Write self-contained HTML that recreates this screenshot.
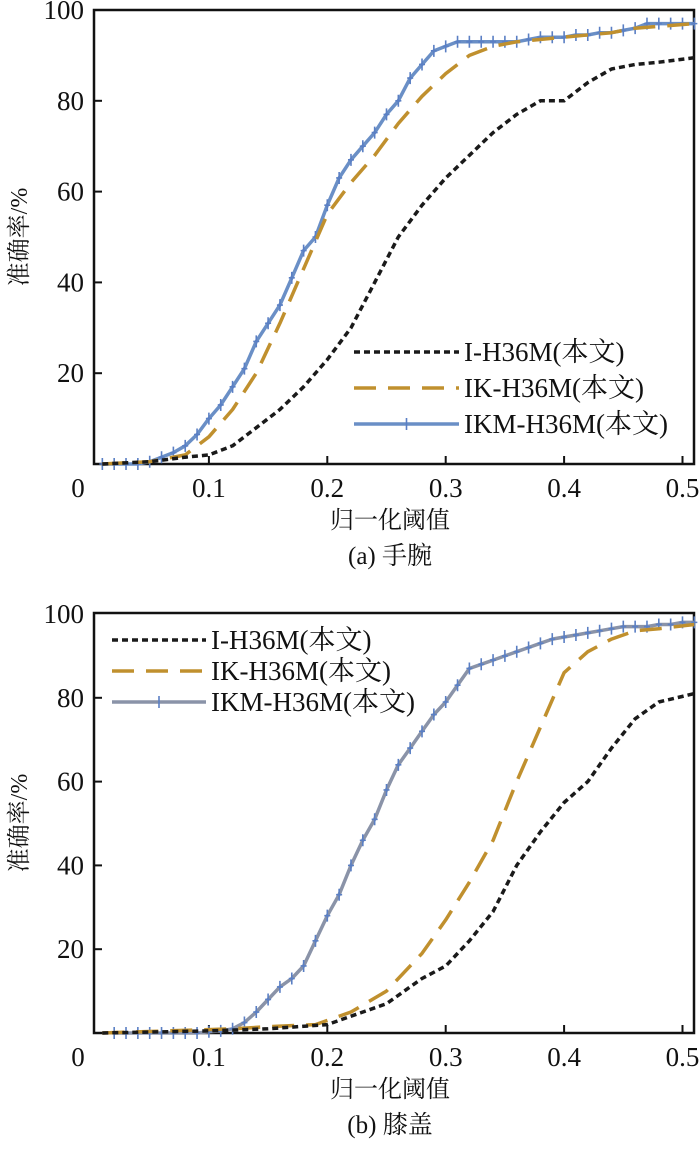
<!DOCTYPE html>
<html><head><meta charset="utf-8"><style>
body{margin:0;background:#fff;}
svg text{font-family:"Liberation Serif","Noto Serif CJK SC",serif;fill:#111;}
</style></head><body>
<svg id="s" width="700" height="1157" viewBox="0 0 700 1157" xmlns="http://www.w3.org/2000/svg"></svg>
<script>
const xTicks=[0,0.1,0.2,0.3,0.4,0.5];
const yTicks=[20,40,60,80,100];
const seriesNames=["I-H36M(本文)","IK-H36M(本文)","IKM-H36M(本文)"];
// chart a (wrist)
const aIx=[0.01,0.05,0.08,0.1,0.12,0.14,0.16,0.18,0.2,0.22,0.24,0.26,0.28,0.3,0.32,0.34,0.36,0.38,0.4,0.42,0.44,0.46,0.48,0.51];
const aI=[0,0.5,1.5,2,4,8,12,17,23,30,40,50,57,63,68,73,77,80,80,84,87,88,88.5,89.5];
const aKx=[0.01,0.05,0.08,0.1,0.12,0.14,0.16,0.18,0.2,0.22,0.24,0.26,0.28,0.3,0.32,0.34,0.36,0.4,0.44,0.46,0.51];
const aK=[0,0.5,2,6,12,20,31,43,55,62,68,75,81,86,90,92,93,94,95,96,97];
const aMx=[0.01,0.02,0.03,0.04,0.05,0.06,0.07,0.08,0.09,0.1,0.11,0.12,0.13,0.14,0.15,0.16,0.17,0.18,0.19,0.2,0.21,0.22,0.23,0.24,0.25,0.26,0.27,0.28,0.29,0.3,0.31,0.32,0.33,0.34,0.35,0.36,0.37,0.38,0.39,0.4,0.41,0.42,0.43,0.44,0.45,0.46,0.47,0.48,0.49,0.5,0.51];
const aM=[0,0,0,0,0.5,1.5,2.5,4,6.5,10,13,17,21,27,31,35,41,47,50,57,63,67,70,73,77,80,85,88,91,92,93,93,93,93,93,93,93.5,94,94,94,94.5,94.5,95,95,95.5,96,97,97,97,97,97];
// chart b (knee)
const bIx=[0.01,0.1,0.15,0.2,0.22,0.25,0.28,0.3,0.32,0.34,0.36,0.38,0.4,0.42,0.44,0.46,0.48,0.51];
const bI=[0,0.5,1,2,4,7,13,16,22,29,40,48,55,60,68,75,79,81];
const bKx=[0.01,0.12,0.15,0.19,0.22,0.25,0.28,0.3,0.32,0.34,0.36,0.38,0.4,0.42,0.44,0.46,0.48,0.51];
const bK=[0,1,1.5,2,5,10,19,27,36,46,60,73,86,91,94,96,96.5,97.5];
const bMx=[0.02,0.03,0.04,0.05,0.06,0.07,0.08,0.09,0.1,0.11,0.12,0.13,0.14,0.15,0.16,0.17,0.18,0.19,0.2,0.21,0.22,0.23,0.24,0.25,0.26,0.27,0.28,0.29,0.3,0.31,0.32,0.33,0.34,0.35,0.36,0.37,0.38,0.39,0.4,0.41,0.42,0.43,0.44,0.45,0.46,0.47,0.48,0.49,0.5,0.51];
const bM=[0,0,0,0,0,0,0,0,0.3,0.5,1,2.5,5,8,11,13,16,22,28,33,40,46,51,58,64,68,72,76,79,83,87,88,89,90,91,92,93,94,94.5,95,95.5,96,96.5,97,97,97,97.5,97.5,98,98];

const S=document.getElementById('s');
const NS='http://www.w3.org/2000/svg';
function mk(t,a,p){const e=document.createElementNS(NS,t);for(const k in a)e.setAttribute(k,a[k]);(p||S).appendChild(e);return e;}
function txt(x,y,s,anchor,size,p){const e=mk('text',{x:x,y:y,'text-anchor':anchor||'middle','font-size':size||22},p);e.textContent=s;return e;}

function chart(cfg){
  const g=mk('g',{});
  
  
  const X=v=>90.5+v*1184;
  const Y=v=>cfg.y0-v*cfg.k;
  const frame=mk('rect',{x:94,y:cfg.top,width:600,height:cfg.y0-cfg.top,fill:'none',stroke:'#111','stroke-width':2.5},g);
  
  
  xTicks.forEach(t=>{
    if(t>0){const l=mk('line',{x1:X(t),x2:X(t),y1:cfg.y0,y2:cfg.y0-8,stroke:'#111','stroke-width':2},g);
    
    }
    const tl=txt(t===0?78:X(t),cfg.y0+33,String(t),'middle',27,g);
    
    
  });
  yTicks.forEach(t=>{
    if(t<100){const l=mk('line',{x1:94,x2:102,y1:Y(t),y2:Y(t),stroke:'#111','stroke-width':2},g);
    
    }
    const tl=txt(84,Y(t)+9,String(t),'end',27,g);
    
    
  });
  const yl=txt(0,0,'准确率/%','middle',24,g);
  yl.setAttribute('transform',`translate(27,${(cfg.top+cfg.y0)/2}) rotate(-90)`);
  
  
  const xl=txt(390,cfg.y0+64,'归一化阈值','middle',24,g);
  
  
  const cap=txt(390,cfg.y0+100,cfg.caption,'middle',25,g);
  
  
  const styles=[
    {stroke:'#1a1a1a',w:3.5,dash:'6 4'},
    {stroke:'#c0902e',w:3.5,dash:'22 12'},
    {stroke:cfg.mline,w:3.5,dash:''}];
  const data=[[cfg.Ix,cfg.I],[cfg.Kx,cfg.K],[cfg.Mx,cfg.M]];
  const order=[2,1,0];
  order.forEach(i=>{
    const [xs,ys]=data[i];const st=styles[i];
    const d=xs.map((x,j)=>(j?'L':'M')+X(x).toFixed(1)+','+Y(ys[j]).toFixed(1)).join('');
    const p=mk('path',{d:d,fill:'none',stroke:st.stroke,'stroke-width':st.w,'stroke-dasharray':st.dash,'stroke-linejoin':'round'},g);
    
    
    if(i===2){xs.forEach((x,j)=>{
      const m=mk('path',{d:`M${X(x)},${Y(ys[j])-6}v12M${X(x)-3},${Y(ys[j])}h6`,stroke:'#5a7fc4','stroke-width':1.6},g);
      
      
    });}
  });
  const L=cfg.leg;
  seriesNames.forEach((n,i)=>{
    const y=L.y+i*L.dy;const st=styles[i];
    const l=mk('line',{x1:L.x1,x2:L.x2,y1:y,y2:y,stroke:st.stroke,'stroke-width':st.w,'stroke-dasharray':st.dash},g);
    
    
    if(i===2){const m=mk('line',{x1:(L.x1+L.x2)/2,x2:(L.x1+L.x2)/2,y1:y-6,y2:y+6,stroke:'#5a7fc4','stroke-width':1.6},g);
      
      }
    const t=txt(L.x2+5,y+9,n,'start',27,g);
    
    
  });
}
chart({name:'chart-wrist',top:10,y0:464,k:4.54,caption:'(a) 手腕',mline:'#6a8fc6',
  Ix:aIx,I:aI,Kx:aKx,K:aK,Mx:aMx,M:aM,leg:{x1:354,x2:459,y:352,dy:36}});
chart({name:'chart-knee',top:613,y0:1033,k:4.19,caption:'(b) 膝盖',mline:'#8a93a8',
  Ix:bIx,I:bI,Kx:bKx,K:bK,Mx:bMx,M:bM,leg:{x1:112,x2:206,y:640,dy:31}});
</script>
</body></html>
